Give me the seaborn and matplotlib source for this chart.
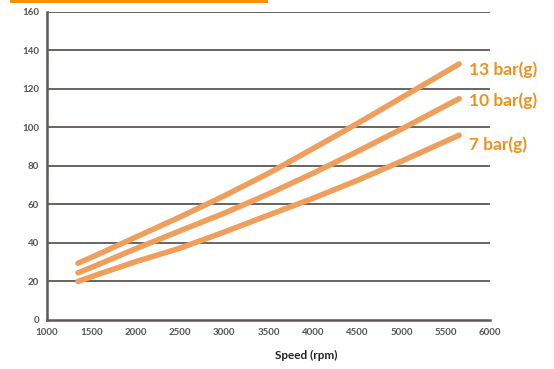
import matplotlib.pyplot as plt
import matplotlib.patches as mpatches
import pandas as pd
import seaborn as sns

sns.set_style("white")
plt.rcParams['font.family'] = ['Lato', 'DejaVu Sans']

''' DATA READ OFF THE CHART
'''
speed = [1350, 1500, 2000, 2500, 3000, 3500, 4000, 4500, 5000, 5650]
flow_7 = [20, 22.5, 30.3, 37.3, 45.7, 54.5, 63.2, 72.5, 82.5, 96]
flow_10 = [24.5, 27.3, 37, 46.3, 55.5, 65.5, 76.2, 87.5, 99.2, 115]
flow_13 = [29.5, 32.5, 43, 53.5, 64.5, 76.2, 89, 102, 115.5, 133]
series_names = ['7 bar(g)', '10 bar(g)', '13 bar(g)']
x_ticks = [1000, 1500, 2000, 2500, 3000, 3500, 4000, 4500, 5000, 5500, 6000]
y_ticks = [0, 20, 40, 60, 80, 100, 120, 140, 160]

df = pd.concat([
    pd.DataFrame({'Speed': speed, 'Flow': f, 'Pressure': n})
    for f, n in zip([flow_7, flow_10, flow_13], series_names)
])

line_col = '#ef9f5c'
text_col = '#f0901e'
axis_col = '#5f5855'

fig = plt.figure(figsize=(5.54, 3.69), dpi=100)
ax = fig.add_axes([0.0848, 0.1328, 0.80, 0.8347])

sns.lineplot(data=df, x='Speed', y='Flow', hue='Pressure',
             palette=[line_col] * 3, lw=4, legend=False, ax=ax,
             solid_capstyle='round', solid_joinstyle='round', zorder=3)

ax.set_xlim(1000, 6000)
ax.set_ylim(0, 160)
ax.set_xticks(x_ticks)
ax.set_yticks(y_ticks)
ax.set_xticklabels([str(t) for t in x_ticks], fontsize=7, fontweight='bold', color='#555555')
ax.set_yticklabels([str(t) for t in y_ticks], fontsize=7, fontweight='bold', color='#555555')

# horizontal gridlines
for yv in y_ticks[1:]:
    ax.axhline(yv, color=axis_col, lw=1.3, zorder=1)

sns.despine(ax=ax, top=True, right=True)
for side in ['left', 'bottom']:
    ax.spines[side].set_color(axis_col)
    ax.spines[side].set_linewidth(1.8)
ax.tick_params(axis='both', direction='inout', length=5, width=1.3, color=axis_col, pad=3)

ax.set_xlabel('')
ax.set_ylabel('')
fig.text(0.553, 0.038, 'Speed (rpm)', ha='center', va='center',
         fontsize=8.5, fontweight='bold', color='#222222')

# labels at the line ends
label_dy = [-6.5, -1.5, -4.3]
for f, n, dy in zip([flow_7, flow_10, flow_13], series_names, label_dy):
    ax.annotate(n, xy=(speed[-1], f[-1]), xytext=(7, dy), textcoords='offset points',
                fontsize=12.5, fontweight='bold', color=text_col, va='center', ha='left',
                annotation_clip=False)

# orange bar at the top
fig.patches.append(mpatches.Rectangle((10 / 554, 1 - 3 / 369), 258 / 554, 3 / 369,
                                      transform=fig.transFigure, color='#f39200', lw=0))

plt.savefig('out.png', dpi=100)
plt.close()
